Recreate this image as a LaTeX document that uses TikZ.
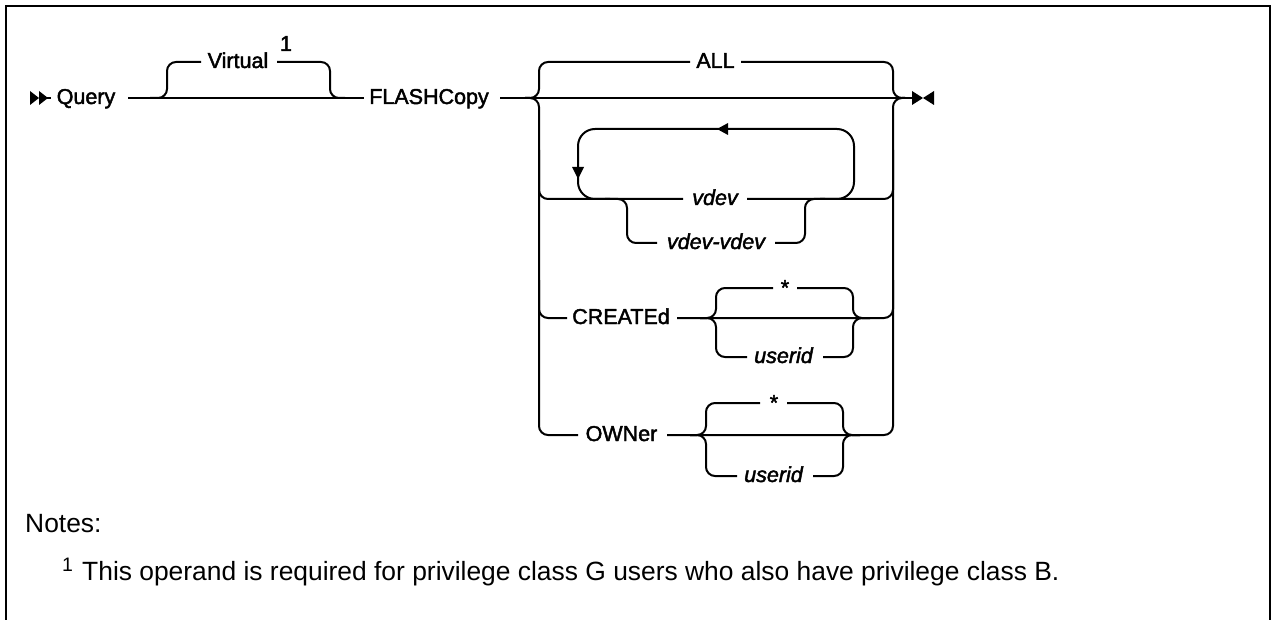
\documentclass[tikz,border=0pt]{standalone}
\usepackage{fontspec}
\setmainfont{Liberation Sans}
\newfontfamily\medfam[FakeBold=2]{Liberation Sans}
\newcommand\lblfont{\medfam\fontsize{21.5}{25}\selectfont}
\newcommand\notefont{\fontsize{26.4}{30}\selectfont}
\begin{document}
\begin{tikzpicture}[x=1pt,y=-1pt,
  rail/.style={line width=2pt, rounded corners=9pt},
  loopline/.style={line width=2pt, rounded corners=17pt},
  plain/.style={line width=2pt},
  lab/.style={font=\lblfont, anchor=base, inner sep=0pt},
  ilab/.style={font=\lblfont\itshape, anchor=base, inner sep=0pt},
  note/.style={font=\notefont, anchor=base west, inner sep=0pt}]
\useasboundingbox (0,0) rectangle (1273,620);
% frame
\draw[line width=2.6pt, line join=miter] (6,620) -- (6,6) -- (1270,6) -- (1270,620);

% start marker
\fill (30,91) -- (39,98) -- (30,105) -- cycle;
\fill (39,91) -- (48,98) -- (39,105) -- cycle;
\draw[plain] (47,98) -- (51,98);
\node[lab] (query) at (86,104) {Query};

% main line and Virtual branch
\draw[plain] (128,98) -- (364,98);
\draw[rail] (150,98) -- (167,98) -- (167,62) -- (201,62);
\draw[rail] (277,62) -- (330,62) -- (330,98) -- (345,98);
\node[lab] (virtual) at (238,68) {Virtual};
\node[lab] (fnref) at (286,51) {1};

\node[lab] (flash) at (429,104) {FLASHCopy};
\draw[plain] (500,98) -- (913,98);

% big choice: left and right braces
\draw[rail] (525,98) -- (539,98) -- (539,62) -- (690,62);
\draw[rail] (525,98) -- (539,98) -- (539,435) -- (578,435);
\draw[rail] (741,62) -- (893,62) -- (893,98) -- (905,98);
\draw[rail] (667,435) -- (893,435) -- (893,98) -- (905,98);
\node[lab] (all) at (715.5,68) {ALL};

% vdev row
\draw[rail] (539,150) -- (539,199) -- (683,199);
\draw[rail] (747,199) -- (893,199) -- (893,150);
\draw[loopline] (610,199) -- (578,199) -- (578,129) -- (854,129) -- (854,199) -- (820,199);
\fill (717,129) -- (728,123) -- (728,135) -- cycle;
\fill (578,179) -- (572,167) -- (584,167) -- cycle;
\node[ilab] (vdev) at (715,205) {vdev};
% vdev-vdev
\draw[rail] (605,199) -- (627,199) -- (627,243) -- (657,243);
\draw[rail] (775,243) -- (805,243) -- (805,199) -- (825,199);
\node[ilab] (vdevr) at (716,249) {vdev-vdev};

% CREATEd row
\draw[rail] (539,280) -- (539,318) -- (567,318);
\draw[rail] (677,318) -- (893,318) -- (893,280);
\node[lab] (created) at (621,324) {CREATEd};
\draw[rail] (700,318) -- (716,318) -- (716,288) -- (773,288);
\draw[rail] (700,318) -- (716,318) -- (716,357) -- (747,357);
\draw[rail] (797,288) -- (853,288) -- (853,318) -- (870,318);
\draw[rail] (823,357) -- (853,357) -- (853,318) -- (870,318);
\node[lab] (star1) at (785,295) {*};
\node[ilab] (uid1) at (783.5,363) {userid};

% OWNer row
\node[lab] (owner) at (621.5,441) {OWNer};
\draw[rail] (690,435) -- (706,435) -- (706,403) -- (760,403);
\draw[rail] (690,435) -- (706,435) -- (706,476) -- (737,476);
\draw[rail] (787,403) -- (843,403) -- (843,435) -- (860,435);
\draw[rail] (813,476) -- (843,476) -- (843,435) -- (860,435);
\node[lab] (star2) at (774,410) {*};
\node[ilab] (uid2) at (773.5,482) {userid};

% end marker
\fill (912,91) -- (923,98) -- (912,105) -- cycle;
\fill (934,91) -- (923,98) -- (934,105) -- cycle;

% notes
\node[note] (notes) at (25,532) {Notes:};
\node[anchor=base west, inner sep=0pt, font=\fontsize{19.5}{22}\selectfont] (fnmark) at (62,571) {1};
\node[note] (fntext) at (82,580) {This operand is required for privilege class G users who also have privilege class B.};
\end{tikzpicture}
\end{document}
